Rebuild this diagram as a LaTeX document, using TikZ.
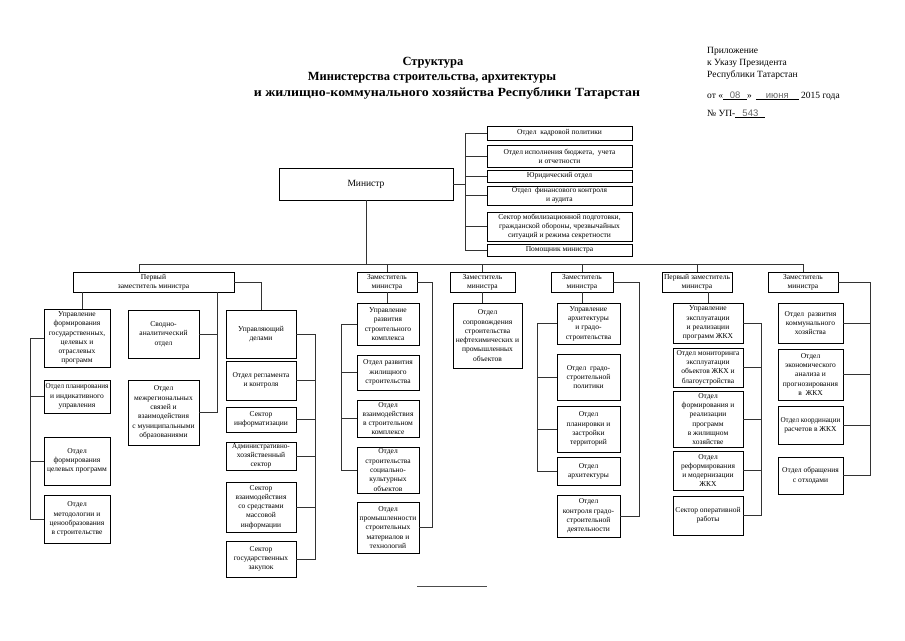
\documentclass[tikz,border=0pt]{standalone}
\usepackage{fontspec}
\setmainfont{Liberation Serif}
\newfontfamily\fillfont{Liberation Sans}
\newcommand\fillin[2]{\underline{\makebox[#2]{\fillfont\color{black!60}#1}}}
\newcommand\sq[1]{\scalebox{0.95}[1]{#1}}
\newcommand\bx[6]{%
  \pgfmathsetmacro\bxw{#4-#2}\pgfmathsetmacro\bxh{#5-#3}%
  \pgfmathsetmacro\bxcx{(#2+#4)/2}\pgfmathsetmacro\bxcy{(#3+#5)/2}%
  \node[box,minimum width=\bxw pt,minimum height=\bxh pt] (#1) at (\bxcx,\bxcy) {#6};}
\begin{document}
\begin{tikzpicture}[x=1pt,y=-1pt,
  box/.style={draw=black,line width=0.9pt,fill=white,align=center,inner sep=0.3pt,
    font=\fontsize{7.5}{9.3}\selectfont},
  conn/.style={line width=0.6pt,draw=black!80},
  ttl/.style={font=\fontsize{12.5}{15}\bfseries\selectfont},
  hdr/.style={anchor=base west,font=\fontsize{9.5}{12}\selectfont,inner sep=0pt}]
\fill[white] (0,0) rectangle (905,640);
\useasboundingbox (0,0) rectangle (905,640);

% ---- title
\node[ttl] (t1) at (433,63) {Структура};
\node[ttl] (t2) at (432,78) {Министерства строительства, архитектуры};
\node[ttl] (t3) at (447,93) {\scalebox{1.11}[1]{и жилищно-коммунального хозяйства Республики Татарстан}};

% ---- header right
\node[hdr] (r1) at (707,53) {Приложение};
\node[hdr] (r2) at (707,65) {к Указу Президента};
\node[hdr] (r3) at (707,77) {Республики Татарстан};
\node[hdr] (r4) at (707,98) {от «\fillin{08}{24pt}» \,\fillin{июня}{43pt} 2015 года};
\node[hdr] (r5) at (707,116) {№ УП-\fillin{543}{30pt}};

% ---- minister and staff
\bx{min}{279}{168}{453}{200}{\fontsize{9.5}{11}\selectfont Министр}
\bx{b1}{487}{126}{632}{140}{Отдел~~кадровой политики}
\bx{b2}{487}{145}{632}{167}{Отдел исполнения бюджета,~~учета\\и отчетности}
\bx{b3}{487}{170}{632}{182}{Юридический отдел}
\bx{b4}{487}{186}{632}{205}{Отдел~~финансового контроля\\и аудита}
\bx{b5}{487}{212}{632}{241}{Сектор мобилизационной подготовки,\\гражданской обороны, чрезвычайных\\ситуаций и режима секретности}
\bx{b6}{487}{244}{632}{256}{Помощник министра}

\coordinate (sb) at (466,184);
\draw[conn] (min.east) -- (sb);
\draw[conn] (b1.west) -- ++(-21,0) |- (b6.west);
\foreach \b in {b2,b3,b4,b5} \draw[conn] (\b.west) -- ++(-21,0);

% ---- deputies
\bx{d1}{73}{272}{234}{292}{Первый\\заместитель министра}
\bx{d2}{357}{272}{417}{292}{Заместитель\\министра}
\bx{d3}{450}{272}{515}{292}{Заместитель\\министра}
\bx{d4}{551}{272}{613}{292}{Заместитель\\министра}
\bx{d5}{662}{272}{732}{292}{Первый заместитель\\министра}
\bx{d6}{768}{272}{838}{292}{Заместитель\\министра}

\coordinate (bus) at (366,264);
\coordinate (busL) at (139,264);
\draw[conn] (min.south) -- (bus);
\draw[conn] (busL) -- (bus -| d6.north);
\draw[conn] (busL) -- (busL |- d1.north);
\foreach \d in {d2,d3,d4,d5,d6} \draw[conn] (\d.north |- bus) -- (\d.north);

% ---- first deputy branch
\bx{A1}{44}{309}{110}{367}{Управление\\формирования\\государственных,\\целевых и\\отраслевых\\программ}
\bx{A2}{44}{380}{110}{413}{\sq{Отдел планирования}\\и индикативного\\управления}
\bx{A3}{44}{437}{110}{485}{Отдел\\формирования\\целевых программ}
\bx{A4}{44}{495}{110}{543}{Отдел\\методологии и\\ценообразования\\в строительстве}

\bx{B1}{128}{310}{199}{358}{Сводно-\\аналитический\\отдел}
\bx{B2}{128}{380}{199}{445}{Отдел\\межрегиональных\\связей и\\взаимодействия\\с муниципальными\\образованиями}

\bx{C1}{226}{310}{296}{358}{Управляющий\\делами}
\bx{C2}{226}{361}{296}{400}{Отдел регламента\\и контроля}
\bx{C3}{226}{407}{296}{432}{Сектор\\информатизации}
\bx{C4}{226}{442}{296}{470}{\sq{Административно-}\\хозяйственный\\сектор}
\bx{C5}{226}{482}{296}{532}{Сектор\\взаимодействия\\со средствами\\массовой\\информации}
\bx{C6}{226}{541}{296}{577}{Сектор\\государственных\\закупок}

\coordinate (d1a) at (82,292);
\coordinate (d1b) at (217,292);
\draw[conn] (d1a) -- (d1a |- A1.north);
\draw[conn] (A1.west) -- ++(-13,0) |- (A4.west);
\foreach \b in {A2,A3} \draw[conn] (\b.west) -- ++(-13,0);
\draw[conn] (d1b) |- (B2.east);
\draw[conn] (B1.east) -- (B1.east -| d1b);
\draw[conn] (d1.east) -| (C1.north);
\draw[conn] (C1.east) -- ++(19,0) |- (C6.east);
\foreach \b in {C2,C3,C4,C5} \draw[conn] (\b.east) -- ++(19,0);

% ---- deputy 2
\bx{D1}{357}{303}{419}{345}{Управление\\развития\\строительного\\комплекса}
\bx{D2}{357}{355}{419}{390}{Отдел развития\\жилищного\\строительства}
\bx{D3}{357}{400}{419}{437}{Отдел\\взаимодействия\\в строительном\\комплексе}
\bx{D4}{357}{447}{419}{493}{Отдел\\строительства\\социально-\\культурных\\объектов}
\bx{D5}{357}{502}{419}{553}{Отдел\\промышленности\\строительных\\материалов и\\технологий}

\draw[conn] (d2.south) -- (d2.south |- D1.north);
\draw[conn] (D1.west) -- ++(-15,0) |- (D4.west);
\foreach \b in {D2,D3} \draw[conn] (\b.west) -- ++(-15,0);
\draw[conn] (d2.east) -- ++(15,0) |- (D5.east);

% ---- deputy 3
\bx{E1}{453}{303}{522}{368}{Отдел\\сопровождения\\строительства\\нефтехимических и\\промышленных\\объектов}
\draw[conn] (d3.south) -- (d3.south |- E1.north);

% ---- deputy 4
\bx{F1}{557}{303}{620}{344}{Управление\\архитектуры\\и градо-\\строительства}
\bx{F2}{557}{354}{620}{400}{Отдел~~градо-\\строительной\\политики}
\bx{F3}{557}{406}{620}{452}{Отдел\\планировки и\\застройки\\территорий}
\bx{F4}{557}{457}{620}{485}{Отдел\\архитектуры}
\bx{F5}{557}{495}{620}{537}{Отдел\\контроля градо-\\строительной\\деятельности}

\draw[conn] (d4.south) -- (d4.south |- F1.north);
\draw[conn] (F1.west) -- ++(-19,0) |- (F4.west);
\foreach \b in {F2,F3} \draw[conn] (\b.west) -- ++(-19,0);
\draw[conn] (d4.east) -- ++(26,0) |- (F5.east);

% ---- first deputy 2
\bx{G1}{673}{303}{743}{343}{Управление\\эксплуатации\\и реализации\\программ ЖКХ}
\bx{G2}{673}{348}{743}{387}{Отдел мониторинга\\эксплуатации\\объектов ЖКХ и\\благоустройства}
\bx{G3}{673}{391}{743}{447}{Отдел\\формирования и\\реализации\\программ\\в жилищном\\хозяйстве}
\bx{G4}{673}{451}{743}{490}{Отдел\\реформирования\\и модернизации\\ЖКХ}
\bx{G5}{673}{496}{743}{535}{Сектор оперативной\\работы}

\draw[conn] (G1.north) -- (G1.north |- d5.south);
\draw[conn] (G1.east) -- ++(18,0) |- (G5.east);
\foreach \b in {G2,G3,G4} \draw[conn] (\b.east) -- ++(18,0);

% ---- deputy 5
\bx{H1}{778}{303}{843}{343}{Отдел~~развития\\коммунального\\хозяйства}
\bx{H2}{778}{349}{843}{400}{Отдел\\экономического\\анализа и\\прогнозирования\\в~~ЖКХ}
\bx{H3}{778}{406}{843}{444}{\sq{Отдел координации}\\расчетов в ЖКХ}
\bx{H4}{778}{457}{843}{494}{Отдел обращения\\с отходами}

\draw[conn] (d6.east) -- ++(32,0) |- (H4.east);
\foreach \b in {H1,H2,H3} \draw[conn] (\b.east) -- ++(27,0);

% ---- footer line
\draw[line width=0.8pt,black!70] (417,586) -- (487,586);
\end{tikzpicture}
\end{document}
